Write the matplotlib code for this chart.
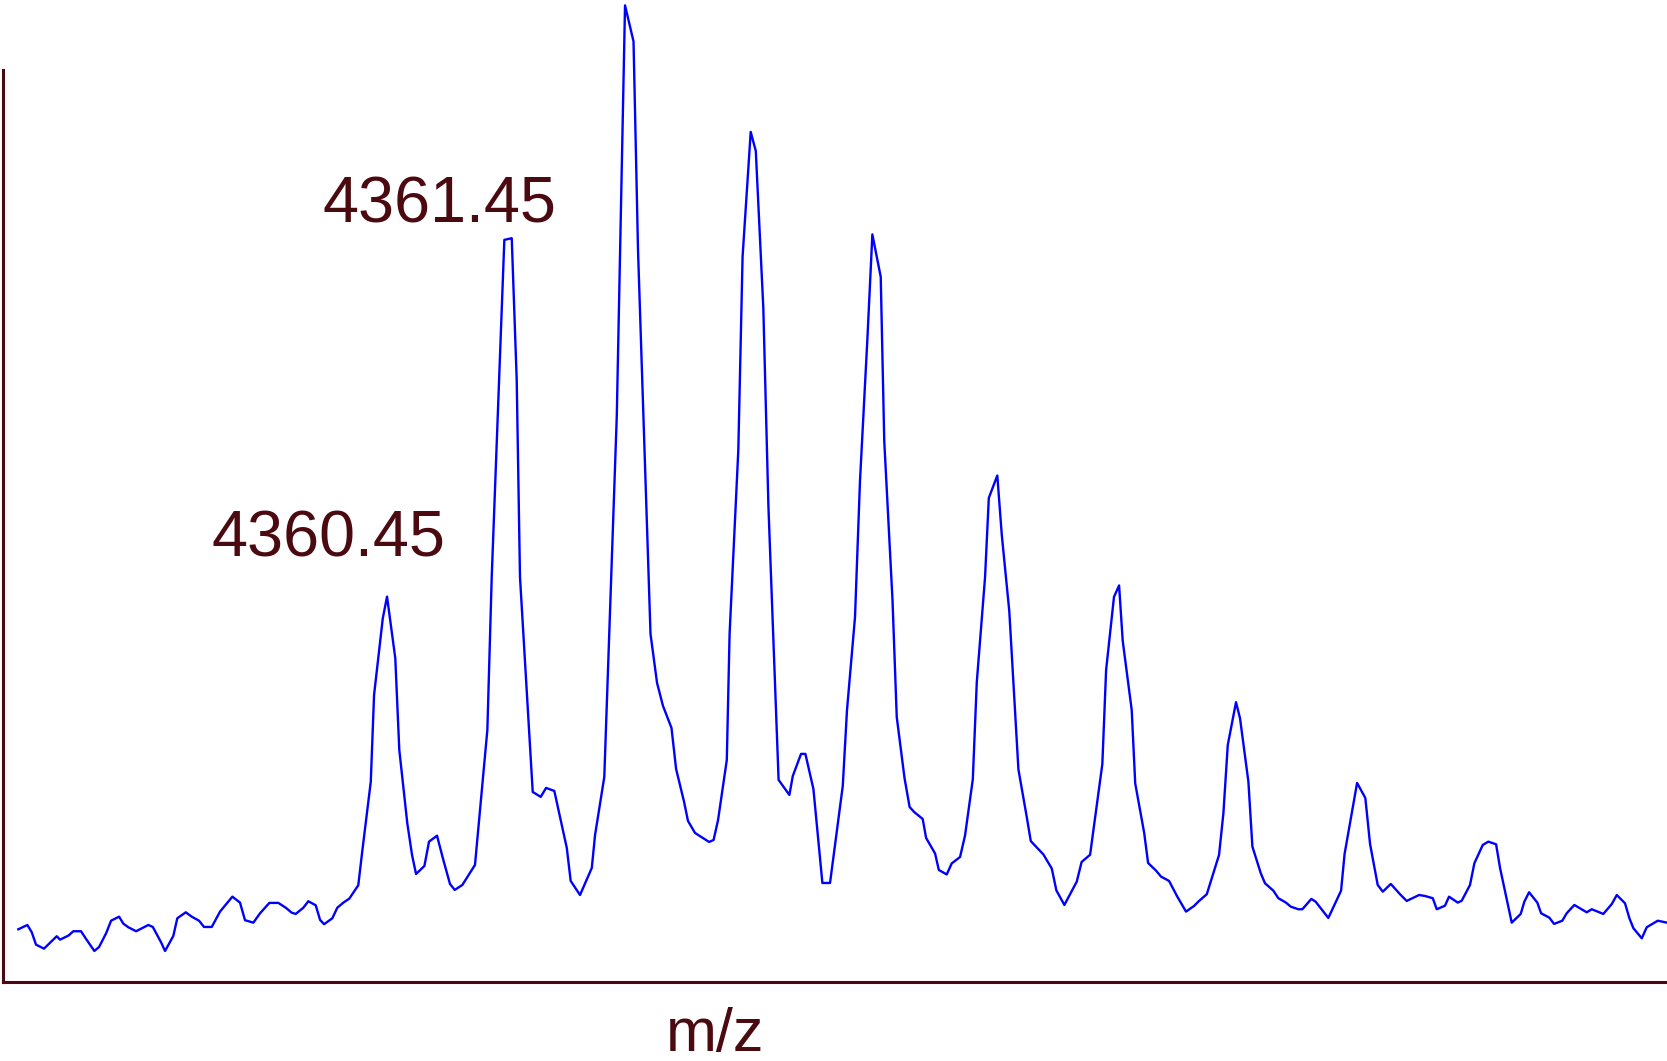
import matplotlib
matplotlib.use("Agg")
import matplotlib.pyplot as plt

# isotope envelope, m/z vs relative intensity (%)
mz = [
    4357.410, 4357.485, 4357.521, 4357.556, 4357.622, 4357.727, 4357.754, 4357.823, 4357.864, 4357.927,
    4357.969, 4358.037, 4358.076, 4358.134, 4358.175, 4358.241, 4358.276, 4358.317, 4358.381, 4358.482,
    4358.519, 4358.587, 4358.620, 4358.688, 4358.721, 4358.791, 4358.840, 4358.900, 4358.941, 4359.005,
    4359.073, 4359.175, 4359.238, 4359.279, 4359.348, 4359.403, 4359.480, 4359.554, 4359.615, 4359.664,
    4359.697, 4359.760, 4359.801, 4359.862, 4359.898, 4359.931, 4359.999, 4360.040, 4360.090, 4360.139,
    4360.213, 4360.244, 4360.316, 4360.343, 4360.415, 4360.450, 4360.518, 4360.551, 4360.617, 4360.656,
    4360.689, 4360.758, 4360.796, 4360.862, 4360.914, 4360.969, 4361.008, 4361.071, 4361.175, 4361.277,
    4361.313, 4361.349, 4361.417, 4361.478, 4361.519, 4361.546, 4361.651, 4361.717, 4361.761, 4361.829,
    4361.932, 4361.964, 4362.041, 4362.138, 4362.165, 4362.241, 4362.344, 4362.412, 4362.482, 4362.519,
    4362.622, 4362.676, 4362.725, 4362.795, 4362.833, 4362.899, 4362.931, 4362.989, 4363.105, 4363.142,
    4363.179, 4363.251, 4363.274, 4363.346, 4363.381, 4363.448, 4363.490, 4363.552, 4363.594, 4363.678,
    4363.767, 4363.795, 4363.863, 4363.899, 4363.965, 4364.039, 4364.102, 4364.207, 4364.242, 4364.308,
    4364.349, 4364.410, 4364.451, 4364.520, 4364.549, 4364.617, 4364.652, 4364.716, 4364.758, 4364.795,
    4364.866, 4364.894, 4364.968, 4364.999, 4365.064, 4365.105, 4365.174, 4365.215, 4365.279, 4365.312,
    4365.380, 4365.411, 4365.481, 4365.518, 4365.580, 4365.655, 4365.724, 4365.757, 4365.861, 4365.930,
    4365.968, 4366.034, 4366.136, 4366.176, 4366.246, 4366.347, 4366.378, 4366.443, 4366.485, 4366.515,
    4366.589, 4366.618, 4366.692, 4366.724, 4366.790, 4366.831, 4366.897, 4366.965, 4367.037, 4367.103,
    4367.138, 4367.208, 4367.309, 4367.345, 4367.381, 4367.449, 4367.482, 4367.551, 4367.584, 4367.653,
    4367.688, 4367.757, 4367.798, 4367.861, 4367.900, 4367.963, 4367.996, 4368.070, 4368.105, 4368.210,
    4368.315, 4368.344, 4368.447, 4368.515, 4368.554, 4368.617, 4368.659, 4368.725, 4368.801, 4368.856,
    4368.958, 4369.007, 4369.071, 4369.104, 4369.172, 4369.205, 4369.277, 4369.310, 4369.378, 4369.414,
    4369.483, 4369.529, 4369.593, 4369.626, 4369.722, 4369.796, 4369.826, 4369.865, 4369.933, 4369.964,
    4370.032, 4370.071, 4370.139, 4370.175, 4370.238, 4370.340, 4370.382, 4370.477, 4370.547, 4370.588,
    4370.656, 4370.692, 4370.725, 4370.794, 4370.835, 4370.926, 4371.002,
]

intensity = [
    5.39, 5.83, 5.09, 3.82, 3.41, 4.68, 4.33, 4.74, 5.19, 5.19,
    4.40, 3.17, 3.58, 4.98, 6.27, 6.68, 5.97, 5.60, 5.19, 5.83,
    5.63, 4.06, 3.17, 4.71, 6.52, 7.13, 6.68, 6.27, 5.63, 5.63,
    7.20, 8.73, 8.12, 6.32, 6.07, 7.03, 8.09, 8.09, 7.60, 7.09,
    6.96, 7.60, 8.26, 7.85, 6.35, 5.91, 6.52, 7.60, 8.12, 8.53,
    9.90, 13.20, 20.50, 29.37, 37.22, 39.44, 33.13, 23.75, 16.24, 13.00,
    11.05, 11.87, 14.36, 14.97, 12.49, 10.03, 9.42, 9.93, 11.98, 25.79,
    41.45, 53.43, 75.95, 76.12, 61.62, 41.45, 19.45, 18.94, 19.86, 19.55,
    13.71, 10.34, 8.90, 11.67, 15.05, 20.98, 57.93, 99.95, 96.26, 74.92,
    35.62, 30.60, 28.25, 26.00, 21.80, 18.42, 16.48, 15.25, 14.33, 14.53,
    16.58, 22.72, 35.62, 54.45, 74.21, 87.00, 85.05, 68.99, 48.72, 20.68,
    19.14, 21.08, 23.34, 23.34, 19.75, 10.13, 10.13, 20.06, 27.84, 37.36,
    51.28, 65.81, 76.51, 72.16, 55.37, 39.10, 27.12, 20.88, 17.91, 17.40,
    16.68, 14.74, 13.15, 11.46, 11.00, 12.13, 12.79, 14.99, 20.73, 30.71,
    41.42, 49.54, 51.83, 45.75, 37.92, 21.76, 16.87, 14.42, 13.05, 11.61,
    9.37, 7.88, 10.27, 12.28, 13.02, 22.31, 31.93, 39.41, 40.58, 34.90,
    27.84, 20.32, 15.25, 12.18, 11.39, 10.78, 10.34, 8.73, 7.20, 7.78,
    8.22, 8.98, 13.00, 17.27, 24.26, 28.63, 26.99, 20.50, 13.85, 11.13,
    10.10, 9.34, 8.57, 8.12, 7.71, 7.44, 7.44, 8.50, 8.22, 6.55,
    9.34, 13.10, 20.37, 18.83, 14.12, 9.93, 9.24, 10.03, 8.98, 8.29,
    8.90, 8.80, 8.57, 7.44, 7.81, 8.73, 8.12, 8.32, 9.93, 12.15,
    14.02, 14.36, 14.09, 11.64, 6.07, 6.96, 8.22, 9.18, 8.12, 7.03,
    6.58, 5.94, 6.27, 7.03, 7.88, 7.13, 7.44, 6.96, 7.98, 8.90,
    8.05, 6.52, 5.50, 4.47, 5.60, 6.27, 6.07,
]

peak_labels = ["4360.45", "4361.45"]
label_mz = [4359.966, 4360.884]
label_y = [43.5, 77.7]

dark = "#4a0a10"

fig = plt.figure(figsize=(16.67, 10.61), dpi=100)
ax = fig.add_axes([0.0018, 0.0745, 0.9982, 0.9255])

ax.plot(mz, intensity, color="#0000ff", lw=1.7, clip_on=False)

ax.set_xlim(4357.284, 4371.002)
ax.set_ylim(0, 100.5)

for side in ["top", "right"]:
    ax.spines[side].set_visible(False)
for side in ["left", "bottom"]:
    ax.spines[side].set_color(dark)
    ax.spines[side].set_linewidth(2.2)
ax.spines["left"].set_bounds(0, 93.3)
ax.set_xticks([])
ax.set_yticks([])

for lab, x, y in zip(peak_labels, label_mz, label_y):
    ax.text(x, y, lab, ha="center", va="baseline", color=dark,
            fontsize=46.6, family="Liberation Sans")

ax.set_xlabel("m/z", color=dark, fontsize=44, family="Liberation Sans", va="baseline")
ax.xaxis.set_label_coords((715 - 3) / 1664, -0.0705)

fig.savefig("out.png", dpi=100)
